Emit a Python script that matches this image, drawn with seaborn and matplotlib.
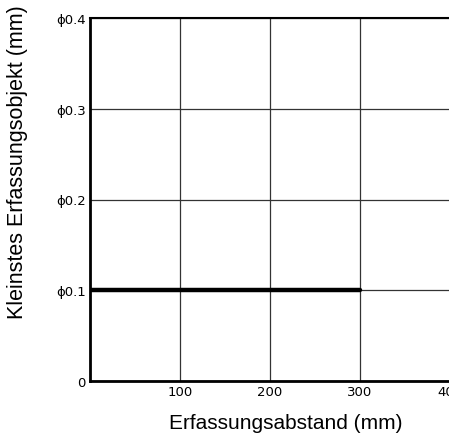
from matplotlib import pyplot as plt
import seaborn as sns
import pandas as pd

# data
distance_mm = [0, 300]
min_object_mm = [0.1, 0.1]

x_ticks = [100, 200, 300, 400]
x_tick_labels = ["100", "200", "300", "400"]
y_ticks = [0, 0.1, 0.2, 0.3, 0.4]
y_tick_labels = ["0", "\u03d50.1", "\u03d50.2", "\u03d50.3", "\u03d50.4"]

sns.set_style("white")
plt.rcParams["font.family"] = ["Liberation Sans", "DejaVu Sans"]
plt.rcParams["text.color"] = "black"
plt.rcParams["xtick.color"] = "black"
plt.rcParams["ytick.color"] = "black"

df = pd.DataFrame({"Abstand": distance_mm, "Objekt": min_object_mm})

fig = plt.figure(figsize=(4.49, 4.39), dpi=100)
ax = fig.add_axes([90 / 449, 57 / 439, 360 / 449, 363 / 439])

sns.lineplot(data=df, x="Abstand", y="Objekt", ax=ax, color="black", linewidth=3.2)

ax.set_xlim(0, 400)
ax.set_ylim(0, 0.4)
ax.set_xticks(x_ticks)
ax.set_xticklabels(x_tick_labels, fontsize=9.5, family=["DejaVu Sans"])
ax.set_yticks(y_ticks)
ax.set_yticklabels(y_tick_labels, fontsize=9.5, family=["DejaVu Sans"])
ax.tick_params(length=0, pad=3)
for lbl in ax.get_yticklabels():
    if lbl.get_text() == "0":
        lbl.set_y(-0.01)

ax.grid(True, color="#333333", linewidth=0.9)
for side in ["left", "bottom"]:
    ax.spines[side].set_linewidth(2)
    ax.spines[side].set_color("black")
ax.spines["top"].set_linewidth(1.5)
ax.spines["top"].set_color("black")
ax.spines["right"].set_visible(False)

ax.set_xlabel("")
ax.set_ylabel("")
fig.text(286 / 449, 1 - 424 / 439, "Erfassungsabstand (mm)", ha="center", va="center", fontsize=15)
fig.text(18 / 449, 1 - 162 / 439, "Kleinstes Erfassungsobjekt (mm)", ha="center", va="center",
         rotation=90, fontsize=15.5)

fig.savefig("out.png", dpi=100)
